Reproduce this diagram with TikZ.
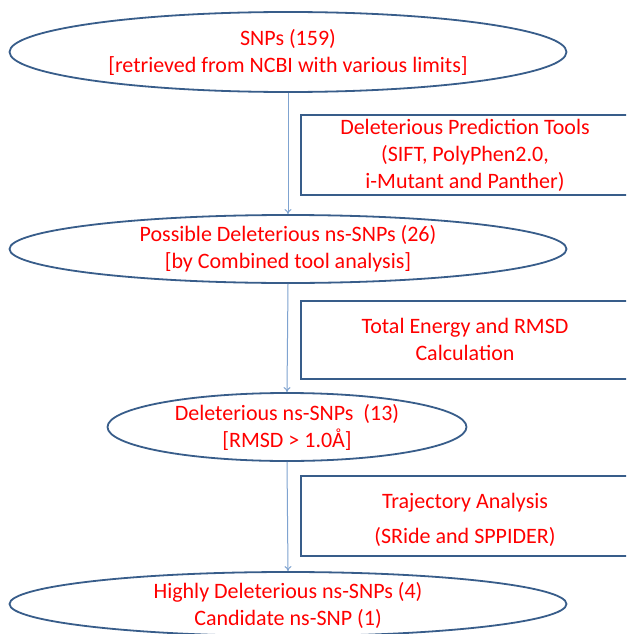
\documentclass[tikz,border=0pt]{standalone}
\usepackage{fontspec}
\setmainfont{Carlito}
\usetikzlibrary{shapes.geometric,arrows.meta}
\definecolor{edgeblue}{HTML}{385D8A}
\definecolor{arrowblue}{HTML}{7FA3D0}
\definecolor{txtred}{HTML}{FF0000}
\tikzset{
  x=1pt, y=1pt,
  oval/.style={ellipse, draw=edgeblue, line width=1.8pt, inner sep=0pt, align=center,
    text=txtred, font=\fontsize{22}{27}\selectfont},
  toolbox/.style={rectangle, draw=edgeblue, line width=1.8pt, inner sep=0pt,
    anchor=north west},
  boxtext/.style={text=txtred, font=\fontsize{22}{27}\selectfont, align=center},
  flow/.style={draw=arrowblue, line width=1pt, -{To[length=5pt,width=7pt]}}
}
\begin{document}
\begin{tikzpicture}
\clip (0,0) rectangle (626,-634);
\fill[white] (0,0) rectangle (626,-634);
\node[oval, minimum width=557, minimum height=80] (e1) at (288,-52)
  {SNPs (159)\\{}[retrieved from NCBI with various limits]};
\node[oval, minimum width=557, minimum height=68] (e2) at (288,-249)
  {Possible Deleterious ns-SNPs (26)\\{}[by Combined tool analysis]};
\node[oval, minimum width=359, minimum height=68] (e3) at (287,-427) {};
\node[boxtext] (t3e) at (287,-427)
  {Deleterious ns-SNPs~~(13)\\{}[RMSD > 1.0Å]};
\node[oval, minimum width=557, minimum height=64] (e4) at (288,-604) {};
\node[boxtext] (t4) at (288,-605)
  {Highly Deleterious ns-SNPs (4)\\Candidate ns-SNP (1)};
\node[toolbox, minimum width=340, minimum height=80] (b1) at (300,-114) {};
\node[boxtext] (t1) at (465,-155)
  {Deleterious Prediction Tools\\(SIFT, PolyPhen2.0,\\i-Mutant and Panther)};
\node[toolbox, minimum width=340, minimum height=78] (b2) at (300,-300) {};
\node[boxtext] (t2) at (465,-339)
  {Total Energy and RMSD\\Calculation};
\node[toolbox, minimum width=340, minimum height=80] (b3) at (300,-475) {};
\node[boxtext] (t3) at (465,-520)
  {Trajectory Analysis\\[8pt](SRide and SPPIDER)};
\draw[flow] (e1.south) -- (e2.north);
\draw[flow] (e2.south) -- (e3.north);
\draw[flow] (e3.south) -- (e4.north);
\end{tikzpicture}
\end{document}
